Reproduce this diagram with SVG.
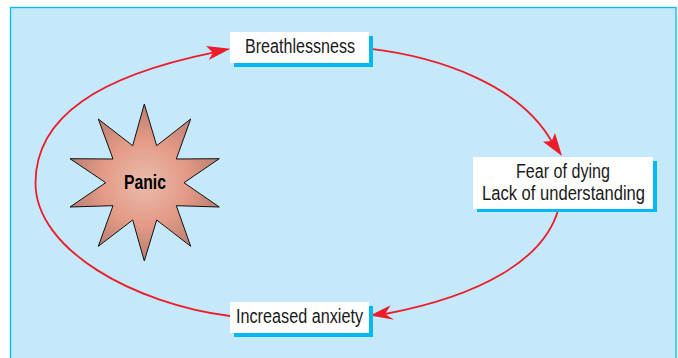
<svg xmlns="http://www.w3.org/2000/svg" width="678" height="358" viewBox="0 0 678 358">
<style>
text{font-family:"Liberation Sans",Arial,sans-serif;font-size:19.5px;fill:#1a1a1a;text-anchor:middle}
.shadow{fill:#00b9f0}
.box{fill:#fff}
.conn{fill:none;stroke:#ed1c2a;stroke-width:1.8}
.head{fill:#ed1c2a}
</style>
<defs>
<radialGradient id="burst" gradientUnits="userSpaceOnUse" cx="144.5" cy="182.5" r="78">
<stop offset="0" stop-color="#eabcab"/>
<stop offset="0.55" stop-color="#e49a87"/>
<stop offset="1" stop-color="#b87f70"/>
</radialGradient>
</defs>
<rect width="678" height="358" fill="#fff"/>
<rect x="10.5" y="7.5" width="665.5" height="360" fill="#c5e9fa" stroke="#00b9f0" stroke-width="1.3"/>
<g id="connectors">
<path class="conn" d="M230 316C135 304 35.5 250 35.5 183C35.5 116 100 76 213 52.7"/>
<polygon class="head" points="230.5,48.7 206,46 213,52.7 208.7,60"/>
<path class="conn" d="M369 48.7C440 57 520 85 552 142"/>
<polygon class="head" points="562,156 543,141.7 551.7,141 555,133"/>
<path class="conn" d="M558.7 208C545 260 480 296 385 314"/>
<polygon class="head" points="370,315.5 390.7,305.3 385,314 394,319.7"/>
</g>
<g id="panic">
<polygon points="144.3,104 156.7,145.7 190.7,119 176.3,159 219.3,158.7 184,182.7 219.3,207 176.3,205.7 190.7,246.3 156.7,220 144.3,261 132.7,220 98.3,246.3 113,205.7 70,207 105.7,182.7 70,158.7 113,159 98.3,119 132.7,145.7" fill="url(#burst)" stroke="#111" stroke-width="1"/>
<text x="145" y="189" textLength="42" lengthAdjust="spacingAndGlyphs" style="font-weight:bold;fill:#000">Panic</text>
</g>
<g id="breathlessness">
<rect class="shadow" x="234" y="36" width="139" height="31"/>
<rect class="box" x="230" y="32" width="139" height="31"/>
<text x="300" y="53" textLength="110" lengthAdjust="spacingAndGlyphs">Breathlessness</text>
</g>
<g id="fear">
<rect class="shadow" x="477" y="161" width="180" height="51"/>
<rect class="box" x="473" y="157" width="180" height="52"/>
<text x="563" y="178" textLength="94" lengthAdjust="spacingAndGlyphs">Fear of dying</text>
<text x="563.5" y="199.5" textLength="163" lengthAdjust="spacingAndGlyphs">Lack of understanding</text>
</g>
<g id="anxiety">
<rect class="shadow" x="234" y="306" width="139" height="31"/>
<rect class="box" x="230" y="302" width="139" height="31"/>
<text x="299.5" y="323" textLength="127" lengthAdjust="spacingAndGlyphs">Increased anxiety</text>
</g>
</svg>
